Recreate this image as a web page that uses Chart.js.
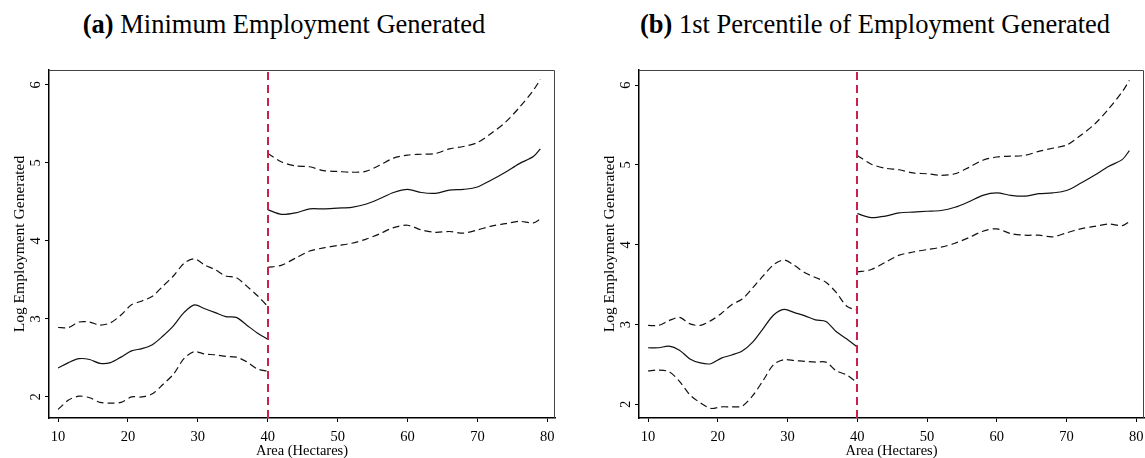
<!DOCTYPE html>
<html>
<head>
<meta charset="utf-8">
<script src="https://cdn.jsdelivr.net/npm/chart.js@4/dist/chart.umd.min.js"></script>
<style>
    body { margin: 0; width: 1145px; height: 458px; position: relative; overflow: hidden; background: #fff;
           font-family: 'Liberation Serif', 'Times New Roman', 'DejaVu Serif', serif; }
    .title { position: absolute; top: 9px; font-size: 26.5px; line-height: 30px; text-align: center; white-space: nowrap; color: #000; }
    canvas { position: absolute; top: 0; }
</style>
</head>
<body>
<div class="title" style="left:0;width:568px"><b>(a)</b> Minimum Employment Generated</div>
<div class="title" style="left:600px;width:550px"><b>(b)</b> 1st Percentile of Employment Generated</div>
<canvas id="panelA" width="565" height="458" style="left:0"></canvas>
<canvas id="panelB" width="555" height="458" style="left:590px"></canvas>
<script>
'use strict';

// cutoff (hectares) and axis ticks
const cutoff = 40;
const xTicks = [10, 20, 30, 40, 50, 60, 70, 80];
const yTicks = [2, 3, 4, 5, 6];

// area points left and right of the cutoff
const xLeft = [10, 11.5, 13, 14.5, 16, 17.5, 19, 20.5, 22, 23.5, 25, 26.5, 28, 29.5, 31, 32.5, 34, 35.5, 37, 38.5, 40];
const xRight = [40, 42, 44, 46, 48, 50, 52, 54, 56, 58, 60, 62, 64, 66, 68, 70, 72, 74, 76, 78, 79];

// (a) minimum employment generated
const minFitLeft = [2.37, 2.44, 2.49, 2.48, 2.43, 2.44, 2.51, 2.59, 2.62, 2.67, 2.78, 2.91, 3.08, 3.18, 3.13, 3.08, 3.03, 3.02, 2.92, 2.82, 2.74];
const minHiLeft = [2.89, 2.89, 2.96, 2.96, 2.92, 2.95, 3.05, 3.18, 3.23, 3.29, 3.42, 3.55, 3.71, 3.77, 3.69, 3.63, 3.55, 3.53, 3.42, 3.30, 3.16];
const minLoLeft = [1.84, 1.96, 2.01, 1.99, 1.93, 1.92, 1.93, 2.00, 2.00, 2.04, 2.16, 2.29, 2.49, 2.58, 2.55, 2.54, 2.52, 2.51, 2.45, 2.36, 2.33];
const minFitRight = [4.40, 4.34, 4.36, 4.41, 4.41, 4.42, 4.43, 4.47, 4.54, 4.62, 4.66, 4.62, 4.61, 4.65, 4.66, 4.69, 4.78, 4.88, 4.99, 5.08, 5.18];
const minHiRight = [5.12, 5.01, 4.96, 4.95, 4.90, 4.89, 4.88, 4.89, 4.97, 5.06, 5.10, 5.11, 5.12, 5.18, 5.21, 5.26, 5.38, 5.52, 5.71, 5.93, 6.07];
const minLoRight = [3.66, 3.69, 3.78, 3.87, 3.91, 3.94, 3.97, 4.02, 4.09, 4.17, 4.20, 4.14, 4.11, 4.12, 4.10, 4.14, 4.19, 4.22, 4.25, 4.23, 4.28];

// (b) 1st percentile of employment generated
const p1FitLeft = [2.71, 2.71, 2.73, 2.68, 2.57, 2.52, 2.51, 2.58, 2.62, 2.67, 2.78, 2.95, 3.12, 3.19, 3.15, 3.11, 3.06, 3.04, 2.91, 2.82, 2.72];
const p1HiLeft = [2.99, 2.99, 3.05, 3.09, 3.01, 2.99, 3.05, 3.14, 3.25, 3.32, 3.46, 3.61, 3.75, 3.81, 3.74, 3.65, 3.59, 3.53, 3.40, 3.23, 3.18];
const p1LoLeft = [2.42, 2.43, 2.41, 2.29, 2.12, 2.02, 1.95, 1.97, 1.97, 1.98, 2.11, 2.30, 2.50, 2.56, 2.55, 2.54, 2.53, 2.53, 2.42, 2.37, 2.27];
const p1FitRight = [4.39, 4.34, 4.36, 4.40, 4.41, 4.42, 4.43, 4.47, 4.54, 4.62, 4.65, 4.62, 4.61, 4.64, 4.65, 4.68, 4.77, 4.87, 4.98, 5.07, 5.18];
const p1HiRight = [5.12, 5.01, 4.96, 4.94, 4.90, 4.89, 4.87, 4.89, 4.97, 5.06, 5.10, 5.11, 5.12, 5.17, 5.21, 5.25, 5.37, 5.51, 5.70, 5.92, 6.06];
const p1LoRight = [3.66, 3.69, 3.78, 3.87, 3.91, 3.94, 3.97, 4.02, 4.09, 4.17, 4.20, 4.14, 4.12, 4.12, 4.10, 4.15, 4.20, 4.23, 4.26, 4.24, 4.29];

const serif = "'Liberation Serif', 'Times New Roman', 'DejaVu Serif', serif";

// top/right frame lines and the red cutoff line
const framePlugin = {
    id: 'frame',
    afterDatasetsDraw(chart) {
        const {ctx, chartArea: a} = chart;
        ctx.save();
        ctx.strokeStyle = '#444';
        ctx.lineWidth = 1;
        ctx.beginPath();
        ctx.moveTo(a.left, a.top + 0.5);
        ctx.lineTo(a.right - 0.5, a.top + 0.5);
        ctx.lineTo(a.right - 0.5, a.bottom);
        ctx.stroke();
        const x = Math.round(chart.scales.x.getPixelForValue(cutoff));
        ctx.strokeStyle = '#cc1f4d';
        ctx.lineWidth = 2;
        ctx.setLineDash([8, 5]);
        ctx.beginPath();
        ctx.moveTo(x, a.top + 2);
        ctx.lineTo(x, a.bottom);
        ctx.stroke();
        ctx.restore();
    }
};

function series(xs, ys, dashed) {
    return {
        data: xs.map((x, i) => ({x, y: ys[i]})),
        borderColor: '#111',
        borderWidth: 1.2,
        borderDash: dashed ? [7, 4] : [],
        pointRadius: 0,
        tension: 0.3,
        fill: false
    };
}

function makePanel(id, s, yMin, padRight) {
    return new Chart(document.getElementById(id), {
        type: 'line',
        data: {
            datasets: [
                series(xLeft, s.fitL, false), series(xLeft, s.hiL, true), series(xLeft, s.loL, true),
                series(xRight, s.fitR, false), series(xRight, s.hiR, true), series(xRight, s.loR, true)
            ]
        },
        options: {
            responsive: false,
            animation: false,
            devicePixelRatio: 1,
            layout: {padding: {top: 70, right: padRight, bottom: 0, left: 0}},
            plugins: {legend: {display: false}, tooltip: {enabled: false}},
            scales: {
                x: {
                    type: 'linear',
                    min: 8.7,
                    max: 81.1,
                    afterBuildTicks: scale => { scale.ticks = xTicks.map(v => ({value: v})); },
                    afterFit: scale => {
                        scale.height = 40;
                        // keep the plot box fixed, the end labels may reach the edge
                        scale.paddingLeft = 0;
                        scale.paddingRight = 0;
                    },
                    grid: {drawOnChartArea: false, tickLength: 4, color: '#000', lineWidth: 1},
                    border: {color: '#000', width: 1.5},
                    ticks: {color: '#000', padding: 6, maxRotation: 0, font: {family: serif, size: 14.5}},
                    title: {display: true, text: 'Area (Hectares)', color: '#000',
                            padding: {top: 0, bottom: 0}, font: {family: serif, size: 14.5, lineHeight: 1}}
                },
                y: {
                    min: yMin,
                    max: 6.19,
                    afterBuildTicks: scale => { scale.ticks = yTicks.map(v => ({value: v})); },
                    afterFit: scale => { scale.width = 49; },
                    grid: {drawOnChartArea: false, tickLength: 4, color: '#000', lineWidth: 1},
                    border: {color: '#000', width: 1.5},
                    ticks: {color: '#000', padding: 5, minRotation: 90, maxRotation: 90, crossAlign: 'center',
                            font: {family: serif, size: 14.5}},
                    title: {display: true, text: 'Log Employment Generated', color: '#000',
                            padding: {top: 12, bottom: 0}, font: {family: serif, size: 15.5, lineHeight: 1}}
                }
            }
        },
        plugins: [framePlugin]
    });
}

makePanel('panelA', {fitL: minFitLeft, hiL: minHiLeft, loL: minLoLeft,
                     fitR: minFitRight, hiR: minHiRight, loR: minLoRight}, 1.73, 10);
makePanel('panelB', {fitL: p1FitLeft, hiL: p1HiLeft, loL: p1LoLeft,
                     fitR: p1FitRight, hiR: p1HiRight, loR: p1LoRight}, 1.83, 1);
</script>
</body>
</html>
